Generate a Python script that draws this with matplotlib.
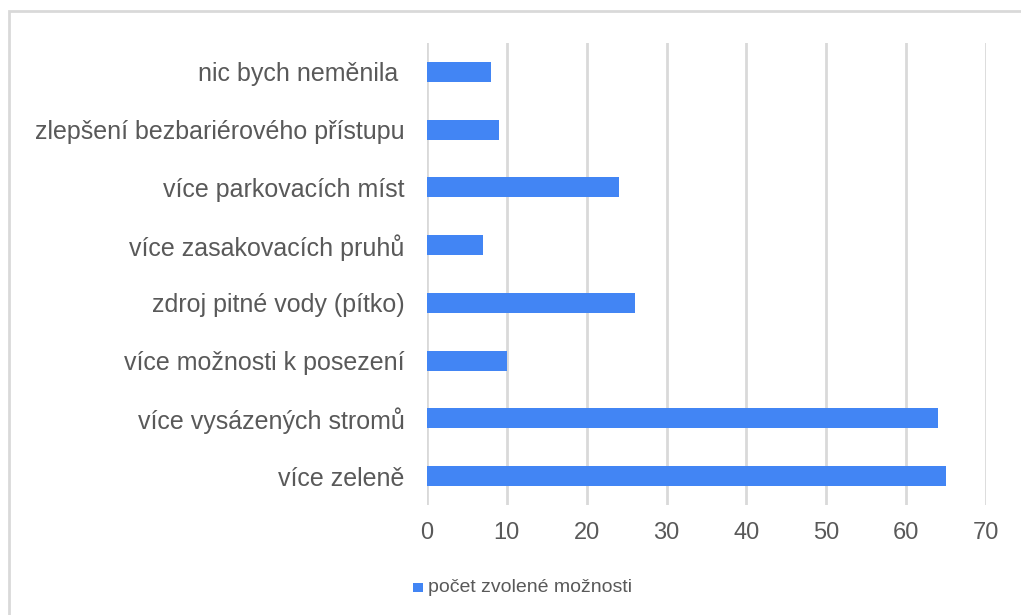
import matplotlib
matplotlib.use("Agg")
import matplotlib.pyplot as plt
import matplotlib.patches as mpatches

# data, bottom to top
categories = [
    "více zeleně",
    "více vysázených stromů",
    "více možnosti k posezení",
    "zdroj pitné vody (pítko)",
    "více zasakovacích pruhů",
    "více parkovacích míst",
    "zlepšení bezbariérového přístupu",
    "nic bych neměnila ",
]
counts = [65, 64, 10, 26, 7, 24, 9, 8]
series_name = "počet zvolené možnosti"
x_ticks = [0, 10, 20, 30, 40, 50, 60, 70]

BAR = "#4285F4"
GRID = "#D9D9D9"
TEXT = "#595959"

plt.rcParams["font.family"] = ["Liberation Sans", "DejaVu Sans"]

W, H = 1021, 615
fig = plt.figure(figsize=(W / 100, H / 100), dpi=100)
fig.patch.set_facecolor("white")

# outer chart frame (light gray, cut off at right and bottom)
frame = mpatches.Rectangle((9 / W, -0.1), 1.2, 1 - 11 / H + 0.1,
                           transform=fig.transFigure, fill=False,
                           edgecolor=GRID, linewidth=2)
fig.patches.append(frame)

ax = fig.add_axes([427 / W, 1 - 505 / H, (986 - 427) / W, (505 - 43) / H])
ypos = list(range(len(categories)))
ax.barh(ypos, counts, height=0.35, color=BAR, zorder=3)

ax.set_xlim(0, 70)
ax.set_ylim(-0.5, len(categories) - 0.5)
ax.set_xticks(x_ticks)
ax.set_yticks(ypos)
ax.set_yticklabels(categories, fontsize=18)
ax.tick_params(axis="both", length=0, labelcolor=TEXT)
ax.tick_params(axis="x", labelsize=17, pad=12)
ax.tick_params(axis="y", pad=16)
ax.grid(axis="x", color=GRID, linewidth=2, zorder=0)
for s in ax.spines.values():
    s.set_visible(False)

# legend
fig.patches.append(mpatches.Rectangle((413 / W, 1 - 592 / H), 10 / W, 9 / H,
                                      transform=fig.transFigure,
                                      facecolor=BAR, edgecolor="none"))
fig.text(428 / W, 1 - 587 / H, series_name, fontsize=14, color=TEXT,
         va="center", ha="left")

fig.savefig("out.png", dpi=100)
